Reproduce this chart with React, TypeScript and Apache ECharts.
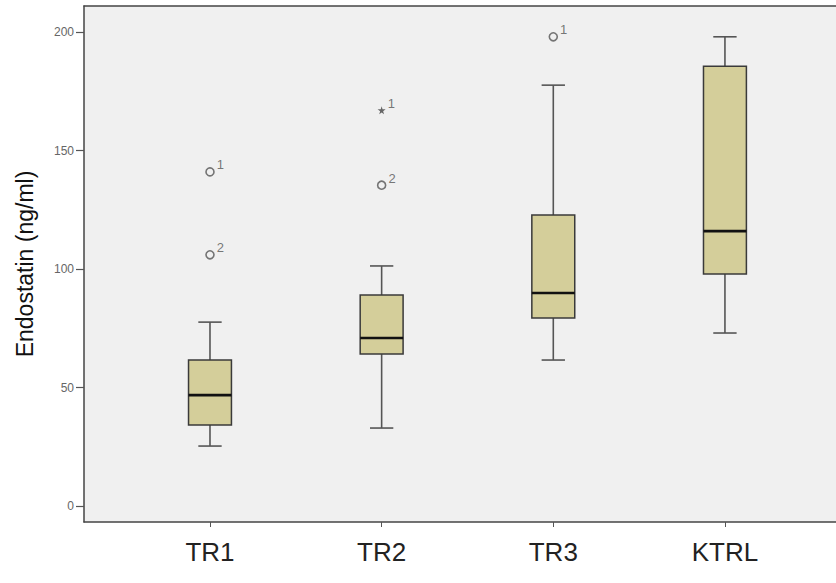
import React, { useEffect, useRef } from "react";
import * as echarts from "echarts";

const categories = ["TR1", "TR2", "TR3", "KTRL"];
const lowWhisker = [25.3, 32.9, 61.6, 73];
const q1 = [34.2, 64.1, 79.3, 97.9];
const median = [46.8, 70.9, 89.9, 116];
const q3 = [61.6, 89, 122.8, 185.6];
const highWhisker = [77.6, 101.3, 177.6, 198];
const circleOutliers: [number, number, string][] = [
  [0, 141, "1"],
  [0, 106, "2"],
  [1, 135.4, "2"],
  [2, 198, "1"],
];
const starOutliers: [number, number, string][] = [[1, 167, "1"]];
const yTicks = [0, 50, 100, 150, 200];
const catPositions = categories.map((_, i) => i);

const FONT = "'Liberation Sans', Arial, sans-serif";
const STAR =
  "path://M50,0 L61,35 L98,35 L68,57 L79,91 L50,70 L21,91 L32,57 L2,35 L39,35 Z";
const X_MIN = -0.734;
const X_MAX = 3.647;
const FRAME = { color: "#444", width: 1.5 };

export default function App() {
  const ref = useRef<HTMLDivElement>(null);
  useEffect(() => {
    if (!ref.current) return;
    const chart = echarts.init(ref.current, null, { renderer: "svg" });
    const boxData = categories.map((_, i) => [
      i,
      lowWhisker[i],
      q1[i],
      median[i],
      q3[i],
      highWhisker[i],
    ]);
    const outlierLabel = {
      show: true,
      position: "right" as const,
      distance: 2,
      offset: [0, -7],
      formatter: (p: any) => p.data[2],
      fontSize: 13,
      color: "#555",
      fontFamily: FONT,
    };
    chart.setOption({
      animation: false,
      backgroundColor: "#ffffff",
      grid: {
        left: 84,
        right: 0,
        top: 6,
        bottom: 61,
        show: true,
        backgroundColor: "#f0f0f0",
        borderWidth: 0,
      },
      xAxis: [
        {
          type: "value",
          position: "bottom",
          min: X_MIN,
          max: X_MAX,
          axisLine: { show: true, onZero: false, lineStyle: FRAME },
          axisTick: {
            show: true,
            customValues: catPositions,
            length: 5,
            lineStyle: { color: "#555", width: 1 },
          },
          axisLabel: {
            customValues: catPositions,
            formatter: (v: number) => categories[Math.round(v)] ?? "",
            fontSize: 26,
            color: "#222",
            fontFamily: FONT,
            margin: 17,
          },
          splitLine: { show: false },
        },
        {
          type: "value",
          position: "top",
          min: X_MIN,
          max: X_MAX,
          axisLine: { show: true, onZero: false, lineStyle: FRAME },
          axisTick: { show: false },
          axisLabel: { show: false },
          splitLine: { show: false },
        },
      ],
      yAxis: {
        type: "value",
        min: -6.75,
        max: 211,
        name: "Endostatin (ng/ml)",
        nameLocation: "middle",
        nameGap: 48,
        nameTextStyle: { fontSize: 23, color: "#111", fontFamily: FONT },
        axisLine: { show: true, onZero: false, lineStyle: FRAME },
        axisTick: {
          show: true,
          customValues: yTicks,
          length: 8,
          lineStyle: { color: "#555", width: 1.2 },
        },
        axisLabel: {
          customValues: yTicks,
          fontSize: 12,
          color: "#666",
          fontFamily: FONT,
          margin: 10,
        },
        splitLine: { show: false },
      },
      series: [
        {
          type: "custom",
          z: 3,
          data: boxData,
          encode: { x: 0, y: [1, 2, 3, 4, 5] },
          renderItem: (params: any, api: any) => {
            const idx = api.value(0);
            const bw = api.size([1, 0])[0];
            const boxHalf = bw * 0.125;
            const capHalf = bw * 0.068;
            const pLo = api.coord([idx, api.value(1)]);
            const pQ1 = api.coord([idx, api.value(2)]);
            const pMed = api.coord([idx, api.value(3)]);
            const pQ3 = api.coord([idx, api.value(4)]);
            const pHi = api.coord([idx, api.value(5)]);
            const x = pMed[0];
            const wStyle = { stroke: "#555", lineWidth: 1.6 };
            return {
              type: "group",
              children: [
                { type: "line", shape: { x1: x, y1: pHi[1], x2: x, y2: pQ3[1] }, style: wStyle },
                { type: "line", shape: { x1: x, y1: pQ1[1], x2: x, y2: pLo[1] }, style: wStyle },
                { type: "line", shape: { x1: x - capHalf, y1: pHi[1], x2: x + capHalf, y2: pHi[1] }, style: wStyle },
                { type: "line", shape: { x1: x - capHalf, y1: pLo[1], x2: x + capHalf, y2: pLo[1] }, style: wStyle },
                {
                  type: "rect",
                  shape: { x: x - boxHalf, y: pQ3[1], width: boxHalf * 2, height: pQ1[1] - pQ3[1] },
                  style: { fill: "#d4ce9a", stroke: "#3a3a3a", lineWidth: 1.5 },
                },
                {
                  type: "line",
                  shape: { x1: x - boxHalf, y1: pMed[1], x2: x + boxHalf, y2: pMed[1] },
                  style: { stroke: "#111", lineWidth: 2.6 },
                },
              ],
            };
          },
        },
        {
          type: "scatter",
          z: 4,
          symbol: "circle",
          symbolSize: 8,
          itemStyle: { color: "rgba(0,0,0,0)", borderColor: "#555", borderWidth: 1.6 },
          data: circleOutliers,
          label: outlierLabel,
        },
        {
          type: "scatter",
          z: 4,
          symbol: STAR,
          symbolSize: 8,
          itemStyle: { color: "#444" },
          data: starOutliers,
          label: outlierLabel,
        },
      ],
    });
    return () => chart.dispose();
  }, []);
  return (
    <div
      ref={ref}
      style={{ position: "absolute", left: 0, top: 0, width: 836, height: 583 }}
    />
  );
}
